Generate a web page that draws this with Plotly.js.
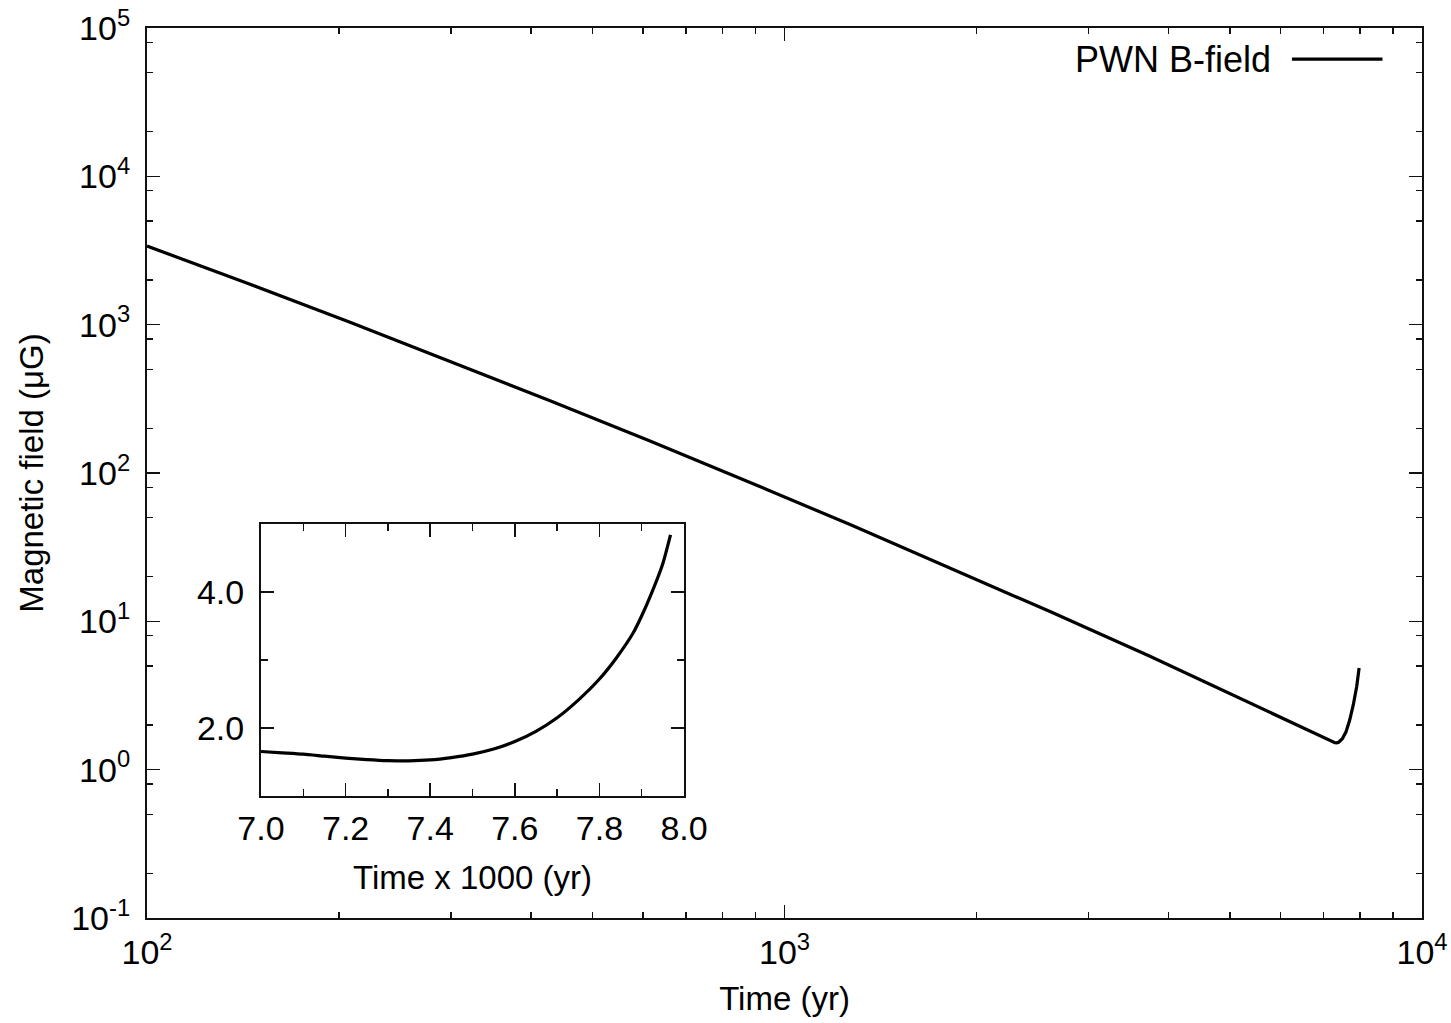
<!DOCTYPE html>
<html>
<head>
<meta charset="utf-8">
<script src="https://cdn.plot.ly/plotly-3.0.1.min.js"></script>
<style>html,body{margin:0;padding:0;background:#fff;}#chart{width:1451px;height:1023px;}</style>
</head>
<body>
<div id="chart"></div>
<script>
// Main panel: PWN magnetic field vs time (log-log)
const timeYr = [100, 145.1, 208.2, 298.7, 428.8, 615.2, 883.1, 1267, 1818, 2609, 3743, 5373, 7000, 7100, 7200, 7300, 7350, 7400, 7500, 7600, 7700, 7800, 7900, 7950, 7968];
const bFieldMuG = [3388, 1873, 1040, 569.1, 307.3, 164.1, 86.4, 44.9, 23.0, 11.64, 5.818, 2.80, 1.654, 1.615, 1.556, 1.52, 1.516, 1.53, 1.615, 1.80, 2.15, 2.72, 3.65, 4.42, 4.84];

// Inset: zoom on the late-time rise
const insetTimeK = [7.0, 7.05, 7.1, 7.15, 7.2, 7.25, 7.3, 7.35, 7.4, 7.45, 7.5, 7.55, 7.6, 7.65, 7.7, 7.75, 7.8, 7.84, 7.88, 7.9, 7.925, 7.95, 7.968];
const insetB = [1.654, 1.635, 1.615, 1.585, 1.556, 1.535, 1.52, 1.516, 1.53, 1.565, 1.615, 1.69, 1.80, 1.95, 2.15, 2.41, 2.72, 3.03, 3.40, 3.65, 4.01, 4.42, 4.84];

const xTickVals = [100, 1000, 10000];
const xTickText = ['10<sup>2</sup>', '10<sup>3</sup>', '10<sup>4</sup>'];
const yTickVals = [0.1, 1, 10, 100, 1000, 10000, 100000];
const yTickText = ['10<sup>-1</sup>', '10<sup>0</sup>', '10<sup>1</sup>', '10<sup>2</sup>', '10<sup>3</sup>', '10<sup>4</sup>', '10<sup>5</sup>'];
const insetXTicks = [7.0, 7.2, 7.4, 7.6, 7.8, 8.0];
const insetXTickText = ['7.0', '7.2', '7.4', '7.6', '7.8', '8.0'];
const insetXMinor = [7.1, 7.3, 7.5, 7.7, 7.9];
const insetYTicks = [2.0, 4.0];
const insetYTickText = ['2.0', '4.0'];
const insetYMinor = [1.0, 3.0, 5.0];
const legendLabel = 'PWN B-field';

// minor tick positions for log axes
const xMinor = [];
[100, 1000].forEach(d => { for (let k = 2; k <= 9; k++) xMinor.push(d * k); });
const yMinor = [];
[0.1, 1, 10, 100, 1000, 10000].forEach(d => { [2, 5, 8].forEach(k => yMinor.push(d * k)); });

const FONT = 'Liberation Sans, Arial, Helvetica, sans-serif';
const axisCommon = {
  showline: true, linecolor: '#111', linewidth: 2, mirror: 'allticks',
  ticks: 'inside', ticklen: 13, tickwidth: 1.5, tickcolor: '#111',
  showgrid: false, zeroline: false,
  tickfont: {family: FONT, size: 34, color: '#000'}
};
const minorCommon = {tickmode: 'array', ticks: 'inside', ticklen: 6, tickwidth: 1.5, tickcolor: '#111', showgrid: false};

const traces = [
  {x: timeYr, y: bFieldMuG, type: 'scatter', mode: 'lines', name: legendLabel,
   line: {color: '#000', width: 3.2}, xaxis: 'x', yaxis: 'y', showlegend: false},
  {x: insetTimeK, y: insetB, type: 'scatter', mode: 'lines', name: legendLabel,
   line: {color: '#000', width: 3.2, shape: 'spline', smoothing: 0.6}, xaxis: 'x2', yaxis: 'y2', showlegend: false}
];

const layout = {
  width: 1451, height: 1023,
  margin: {l: 147, r: 29, t: 28, b: 105},
  paper_bgcolor: '#fff', plot_bgcolor: '#fff',
  font: {family: FONT, color: '#000'},
  showlegend: false,
  xaxis: Object.assign({}, axisCommon, {
    type: 'log', range: [2, 4], domain: [0, 1],
    tickmode: 'array', tickvals: xTickVals, ticktext: xTickText, ticklabelstandoff: 3,
    minor: Object.assign({}, minorCommon, {tickvals: xMinor}),
    title: {text: 'Time (yr)', font: {family: FONT, size: 33, color: '#000'}, standoff: 17}
  }),
  yaxis: Object.assign({}, axisCommon, {
    type: 'log', range: [-1, 5], domain: [0, 1],
    tickmode: 'array', tickvals: yTickVals, ticktext: yTickText, ticklabelstandoff: 8,
    minor: Object.assign({}, minorCommon, {tickvals: yMinor}),
    title: {text: 'Magnetic field (μG)', font: {family: FONT, size: 33, color: '#000'}, standoff: 18}
  }),
  xaxis2: Object.assign({}, axisCommon, {
    anchor: 'y2', domain: [0.0894, 0.4212], range: [7.0, 8.0],
    tickmode: 'array', tickvals: insetXTicks, ticktext: insetXTickText, ticklabelstandoff: 1,
    minor: Object.assign({}, minorCommon, {tickvals: insetXMinor, ticklen: 7}),
    title: {text: 'Time x 1000 (yr)', font: {family: FONT, size: 33, color: '#000'}, standoff: 20}
  }),
  yaxis2: Object.assign({}, axisCommon, {
    anchor: 'x2', domain: [0.1371, 0.4427], range: [1.0, 5.0],
    tickmode: 'array', tickvals: insetYTicks, ticktext: insetYTickText, ticklabelstandoff: 8,
    minor: Object.assign({}, minorCommon, {tickvals: insetYMinor, ticklen: 7})
  }),
  annotations: [
    {xref: 'paper', yref: 'paper', x: 0.8834, y: 0.965, xanchor: 'right', yanchor: 'middle',
     text: legendLabel, showarrow: false, font: {family: FONT, size: 36, color: '#000'}}
  ],
  shapes: [
    {type: 'line', xref: 'paper', yref: 'paper', x0: 0.898, x1: 0.969, y0: 0.965, y1: 0.965,
     line: {color: '#000', width: 3.2}}
  ]
};

Plotly.newPlot('chart', traces, layout, {displayModeBar: false, staticPlot: true});
</script>
</body>
</html>
